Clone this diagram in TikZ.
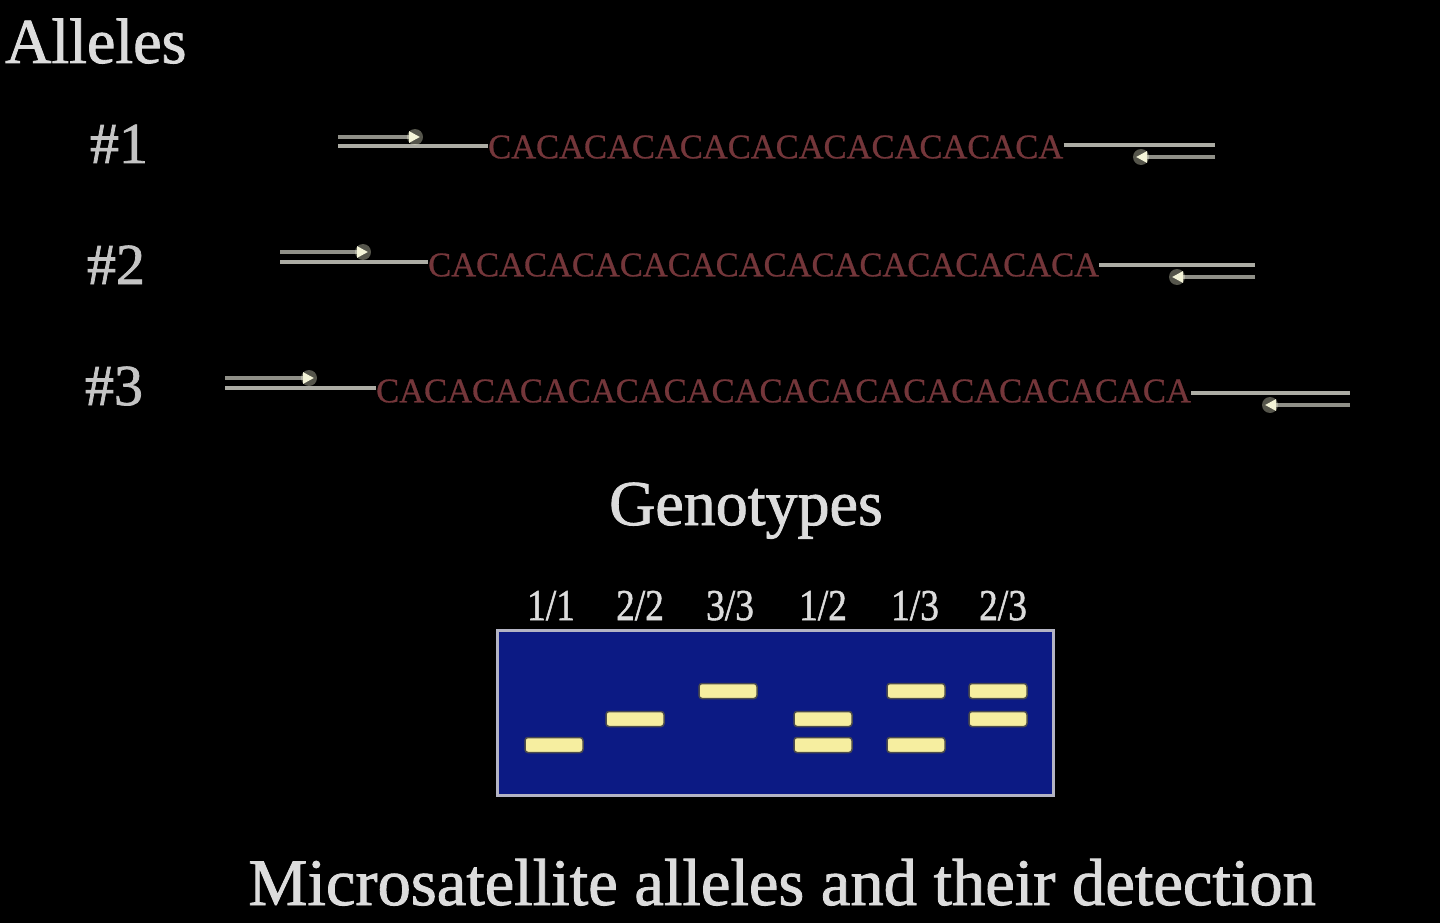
\documentclass[tikz,border=0pt]{standalone}
\usepackage{fontspec}
\setmainfont{Liberation Serif}
\newfontfamily\heavyserif[FakeBold=1.3]{Liberation Serif}
\newfontfamily\midserif[FakeBold=0.8]{Liberation Serif}
\usetikzlibrary{arrows.meta}
\definecolor{txt}{HTML}{DCDCDC}
\definecolor{lbl}{HTML}{C4C4C4}
\definecolor{seq}{HTML}{74363A}
\definecolor{dna}{HTML}{ACACA4}
\definecolor{primer}{HTML}{909088}
\definecolor{tipc}{HTML}{F4F4D8}
\definecolor{gelblue}{HTML}{0C1A84}
\definecolor{gelrim}{HTML}{B4B4C4}
\definecolor{bandc}{HTML}{F6EEA0}
\tikzset{
  x=1pt, y=-1pt,
  title/.style={text=txt, inner sep=0, anchor=base, font=\heavyserif\fontsize{64}{70}\selectfont},
  allele/.style={text=lbl, inner sep=0, anchor=base, font=\heavyserif\fontsize{58}{64}\selectfont},
  seqtext/.style={text=seq, inner sep=0, anchor=west, font=\midserif\fontsize{34.5}{40}\selectfont},
  dnaline/.style={draw=dna, line width=3.5pt},
  fwdprimer/.style={draw=primer, line width=4pt, -{Triangle[length=11pt,width=11pt,fill=tipc,color=tipc]}},
  glow/.style={fill=tipc, opacity=0.35},
  lane/.style={text=txt, inner sep=0, anchor=base, font=\heavyserif\fontsize{44}{48}\selectfont, xscale=0.85},
  gel/.style={fill=gelblue, draw=gelrim, line width=3pt},
  band/.style={fill=bandc, draw=black!70, line width=1.5pt, rounded corners=3pt, minimum width=58pt, minimum height=15pt, inner sep=0},
}
\begin{document}
\begin{tikzpicture}
\fill[black] (0,0) rectangle (1440,923);
\useasboundingbox (0,0) rectangle (1440,923);

% titles
\node[title, anchor=base west] (alleles) at (5,63) {Alleles};
\node[allele] (a1) at (119,163) {\#1};
\node[allele] (a2) at (116,284) {\#2};
\node[allele] (a3) at (114,405) {\#3};

% allele 1
\node[seqtext] (s1) at (488,147) {CACACACACACACACACACACACA};
\coordinate (l1) at (338,146);
\coordinate (r1) at (1215,145);
\coordinate (f1a) at (338,137);
\coordinate (f1b) at (420,137);
\coordinate (b1a) at (1215,157);
\coordinate (b1b) at (1136,157);
\draw[dnaline] (l1) -- (s1.west |- l1);
\draw[dnaline] (s1.east |- r1) -- (r1);
\draw[fwdprimer] (f1a) -- (f1b);
\draw[fwdprimer] (b1a) -- (b1b);
\fill[glow] (f1b) ++(-5,0) circle (8);
\fill[glow] (b1b) ++(5,0) circle (8);

% allele 2
\node[seqtext] (s2) at (428,265) {CACACACACACACACACACACACACACA};
\coordinate (l2) at (280,262);
\coordinate (r2) at (1255,265);
\coordinate (f2a) at (280,252);
\coordinate (f2b) at (368,252);
\coordinate (b2a) at (1255,277);
\coordinate (b2b) at (1172,277);
\draw[dnaline] (l2) -- (s2.west |- l2);
\draw[dnaline] (s2.east |- r2) -- (r2);
\draw[fwdprimer] (f2a) -- (f2b);
\draw[fwdprimer] (b2a) -- (b2b);
\fill[glow] (f2b) ++(-5,0) circle (8);
\fill[glow] (b2b) ++(5,0) circle (8);

% allele 3
\node[seqtext] (s3) at (376,391) {CACACACACACACACACACACACACACACACACA};
\coordinate (l3) at (225,388);
\coordinate (r3) at (1350,393);
\coordinate (f3a) at (225,378);
\coordinate (f3b) at (314,378);
\coordinate (b3a) at (1350,405);
\coordinate (b3b) at (1265,405);
\draw[dnaline] (l3) -- (s3.west |- l3);
\draw[dnaline] (s3.east |- r3) -- (r3);
\draw[fwdprimer] (f3a) -- (f3b);
\draw[fwdprimer] (b3a) -- (b3b);
\fill[glow] (f3b) ++(-5,0) circle (8);
\fill[glow] (b3b) ++(5,0) circle (8);

% genotypes
\node[title] (geno) at (746,525) {Genotypes};
\node[lane] (g1) at (551,620) {1/1};
\node[lane] (g2) at (640,620) {2/2};
\node[lane] (g3) at (730,620) {3/3};
\node[lane] (g4) at (823,620) {1/2};
\node[lane] (g5) at (915,620) {1/3};
\node[lane] (g6) at (1003,620) {2/3};

\draw[gel] (497,630) rectangle (1053,795);

\node[band] (b11) at (554,745) {};
\node[band] (b22) at (635,719) {};
\node[band] (b33) at (728,691) {};
\node[band] (b12a) at (823,719) {};
\node[band] (b12b) at (823,745) {};
\node[band] (b13a) at (916,691) {};
\node[band] (b13b) at (916,745) {};
\node[band] (b23a) at (998,691) {};
\node[band] (b23b) at (998,719) {};

\node[title, font=\heavyserif\fontsize{66.5}{72}\selectfont] (caption) at (782,905) {Microsatellite alleles and their detection};
\end{tikzpicture}
\end{document}
